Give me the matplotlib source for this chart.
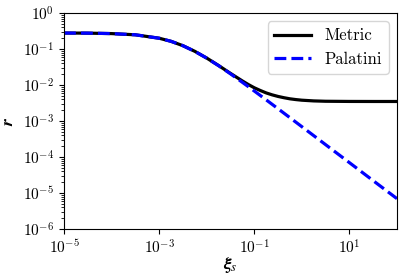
import matplotlib
matplotlib.use("Agg")
import matplotlib.pyplot as plt
import numpy as np

plt.rcParams['font.family'] = 'serif'
plt.rcParams['font.serif'] = ['cmr10']
plt.rcParams['mathtext.fontset'] = 'cm'
plt.rcParams['axes.formatter.use_mathtext'] = True
plt.rcParams['axes.unicode_minus'] = False

xi = [1e-5, 3.16e-5, 1e-4, 3.16e-4, 1e-3, 1.78e-3, 3.16e-3, 5.62e-3, 1e-2, 1.78e-2,
      3.16e-2, 5.62e-2, 7.50e-2, 1e-1, 1.334e-1, 1.78e-1, 2.371e-1, 3.16e-1, 4.217e-1,
      5.62e-1, 7.50e-1, 1.0, 1.778, 3.16, 10.0, 31.6, 100.0]
r_metric = [2.79e-1, 2.77e-1, 2.69e-1, 2.49e-1, 2.00e-1, 1.64e-1, 1.24e-1, 8.65e-2, 5.62e-2, 3.48e-2,
            2.11e-2, 1.30e-2, 1.035e-2, 8.41e-3, 7.08e-3, 6.05e-3, 5.35e-3, 4.83e-3, 4.45e-3,
            4.15e-3, 3.95e-3, 3.80e-3, 3.63e-3, 3.55e-3, 3.51e-3, 3.50e-3, 3.50e-3]
r_palatini = [2.79e-1, 2.77e-1, 2.69e-1, 2.49e-1, 2.00e-1, 1.64e-1, 1.24e-1, 8.62e-2, 5.60e-2, 3.45e-2,
              2.05e-2, 1.19e-2, 9.03e-3, 6.83e-3, 5.15e-3, 3.88e-3, 2.92e-3, 2.20e-3, 1.65e-3,
              1.24e-3, 9.30e-4, 6.98e-4, 3.93e-4, 2.21e-4, 7.00e-5, 2.21e-5, 7.00e-6]

fig = plt.figure(figsize=(4.08, 2.78), dpi=100)
ax = fig.add_axes([0.157, 0.176, 0.816, 0.777])
ax.plot(xi, r_metric, color='black', lw=2.3, label=r'Metric')
ax.plot(xi, r_palatini, color='blue', lw=2.3, ls='--', label=r'Palatini')
ax.set_xscale('log')
ax.set_yscale('log')
ax.set_xlim(1e-5, 1e2)
ax.set_ylim(1e-6, 1e0)
ax.set_xticks([1e-5, 1e-3, 1e-1, 1e1])
ax.set_yticks([1e-6, 1e-5, 1e-4, 1e-3, 1e-2, 1e-1, 1e0])
ax.tick_params(labelsize=11)
ax.set_xlabel(r'$\mathbfit{\xi}_{s}$', fontsize=13, math_fontfamily='stix')
ax.set_ylabel(r'$\mathbfit{r}$', fontsize=13, math_fontfamily='stix')
ax.xaxis.set_label_coords(0.5, -0.12)
ax.yaxis.set_label_coords(-0.145, 0.5)
ax.legend(loc='upper right', fontsize=12, handlelength=2.2)
fig.savefig('out.png', dpi=100)
